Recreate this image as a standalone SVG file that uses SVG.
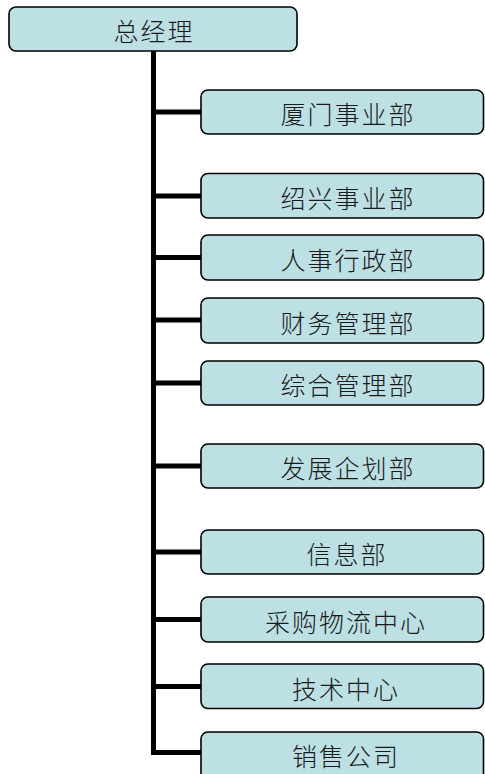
<svg xmlns="http://www.w3.org/2000/svg" width="485" height="774" viewBox="0 0 485 774">
<style>
.box{fill:#BCE0E3;stroke:#000;stroke-width:1.6}
.lbl{font-family:"Noto Sans CJK SC","Liberation Serif",sans-serif;font-size:25px;font-weight:300;fill:#1a1a1a;text-anchor:middle;dominant-baseline:central;letter-spacing:2px}
.conn{fill:none;stroke:#000;stroke-width:5;stroke-linejoin:miter}
</style>
<rect width="485" height="774" fill="#fff"/>
<g id="connectors">
<path class="conn" d="M153.5 51 V752.5 H202"/>
<path class="conn" d="M151 112 H202 M151 196 H202 M151 257.5 H202 M151 320 H202 M151 383 H202 M151 466 H202 M151 552 H202 M151 619.5 H202 M151 686.5 H202"/>
</g>
<g id="n0"><rect class="box" x="9" y="7" width="288" height="44" rx="7"/><text class="lbl" x="154" y="30">总经理</text></g>
<g id="n1"><rect class="box" x="201" y="90" width="282.5" height="44" rx="7"/><text class="lbl" x="348" y="113">厦门事业部</text></g>
<g id="n2"><rect class="box" x="201" y="173.5" width="282.5" height="44.5" rx="7"/><text class="lbl" x="348" y="197">绍兴事业部</text></g>
<g id="n3"><rect class="box" x="201" y="235" width="282.5" height="45" rx="7"/><text class="lbl" x="348" y="258.5">人事行政部</text></g>
<g id="n4"><rect class="box" x="201" y="298" width="282.5" height="45" rx="7"/><text class="lbl" x="348" y="321.5">财务管理部</text></g>
<g id="n5"><rect class="box" x="201" y="361" width="282.5" height="44" rx="7"/><text class="lbl" x="348" y="384">综合管理部</text></g>
<g id="n6"><rect class="box" x="201" y="444" width="282.5" height="44" rx="7"/><text class="lbl" x="348" y="467">发展企划部</text></g>
<g id="n7"><rect class="box" x="201" y="530" width="282.5" height="44" rx="7"/><text class="lbl" x="347" y="553">信息部</text></g>
<g id="n8"><rect class="box" x="201" y="597" width="282.5" height="45" rx="7"/><text class="lbl" x="346" y="620.5">采购物流中心</text></g>
<g id="n9"><rect class="box" x="201" y="664" width="282.5" height="44.5" rx="7"/><text class="lbl" x="346" y="687.5">技术中心</text></g>
<g id="n10"><rect class="box" x="201" y="732" width="282.5" height="48" rx="7"/><text class="lbl" x="346" y="755">销售公司</text></g>
</svg>
